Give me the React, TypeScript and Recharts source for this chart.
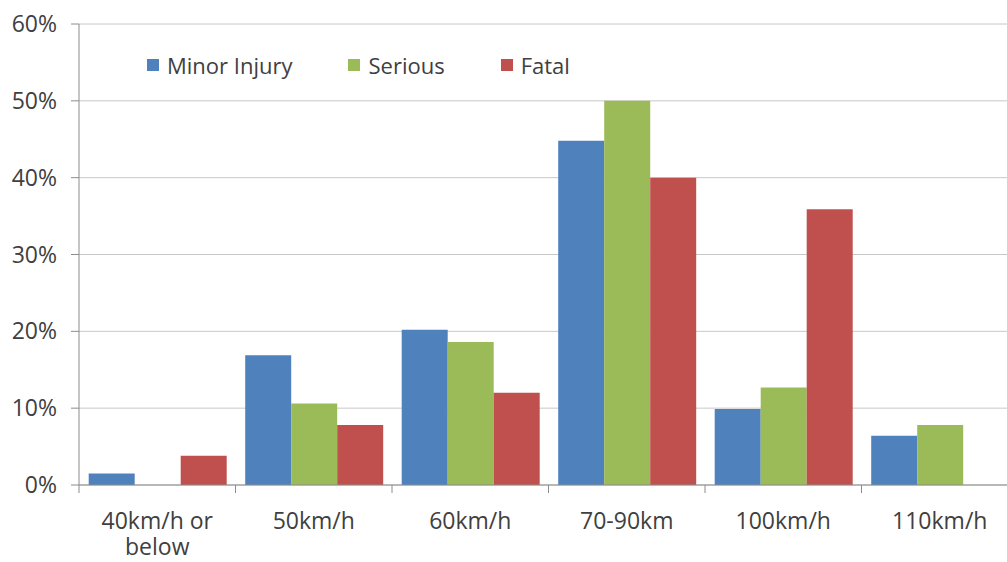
import React from 'react';
import { BarChart, Bar, XAxis, YAxis, CartesianGrid } from 'recharts';

const speeds = ['40km/h or below', '50km/h', '60km/h', '70-90km', '100km/h', '110km/h'];
const minorInjury = [1.5, 16.9, 20.2, 44.8, 9.9, 6.4];
const serious = [0, 10.6, 18.6, 50, 12.7, 7.8];
const fatal = [3.8, 7.8, 12, 40, 35.9, 0];
const yTicks = [0, 10, 20, 30, 40, 50, 60];

const seriesList = [
  { key: 'minor', name: 'Minor Injury', color: '#4F81BD' },
  { key: 'serious', name: 'Serious', color: '#9BBB59' },
  { key: 'fatal', name: 'Fatal', color: '#C0504D' },
];

const data = speeds.map((speed, i) => ({
  speed,
  minor: minorInjury[i],
  serious: serious[i],
  fatal: fatal[i],
}));

const CHART_W = 1018;
const CHART_H = 562;
const Y_AXIS_W = 79;
const BAND = (CHART_W - Y_AXIS_W) / speeds.length;
const FONT = '"Open Sans", sans-serif';
const TEXT_COLOR = '#404040';
const AXIS_COLOR = '#8c8c8c';
const X_FONT_SIZE = 23;

let measureCtx: CanvasRenderingContext2D | null = null;
function wrapLabel(label: string, maxWidth: number): string[] {
  if (!measureCtx) {
    measureCtx = document.createElement('canvas').getContext('2d');
  }
  if (!measureCtx) return [label];
  measureCtx.font = `${X_FONT_SIZE}px ${FONT}`;
  const words = label.split(' ');
  const lines: string[] = [];
  let current = '';
  words.forEach((w) => {
    const next = current ? `${current} ${w}` : w;
    if (current && measureCtx!.measureText(next).width > maxWidth) {
      lines.push(current);
      current = w;
    } else {
      current = next;
    }
  });
  if (current) lines.push(current);
  return lines;
}

function SpeedTick(props: any) {
  const { x, y, payload } = props;
  const left = x - BAND / 2;
  const lines = wrapLabel(String(payload.value), 130);
  return (
    <g>
      <line x1={left} x2={left} y1={y} y2={y + 8} stroke={AXIS_COLOR} />
      <text x={x} y={y + 44} textAnchor="middle" fontSize={X_FONT_SIZE} fontFamily={FONT} fill={TEXT_COLOR}>
        {lines.map((line, i) => (
          <tspan key={i} x={x} dy={i === 0 ? 0 : 26}>
            {line}
          </tspan>
        ))}
      </text>
    </g>
  );
}

function LegendBox() {
  return (
    <div
      style={{
        position: 'absolute',
        left: 147,
        top: 52,
        display: 'flex',
        alignItems: 'center',
        fontFamily: FONT,
        fontSize: 22,
        lineHeight: '26px',
        color: TEXT_COLOR,
        whiteSpace: 'nowrap',
      }}
    >
      {seriesList.map((s) => (
        <div key={s.key} style={{ display: 'flex', alignItems: 'center', marginRight: 56 }}>
          <span style={{ width: 12, height: 12, background: s.color, marginRight: 8, display: 'inline-block' }} />
          <span>{s.name}</span>
        </div>
      ))}
    </div>
  );
}

export default function App() {
  return (
    <div style={{ position: 'fixed', left: 0, top: 0, width: 1007, height: 562, overflow: 'hidden', background: '#fff' }}>
      <BarChart
        width={CHART_W}
        height={CHART_H}
        data={data}
        margin={{ top: 24, right: 0, bottom: 0, left: 0 }}
        barCategoryGap="6.2%"
        barGap={0}
      >
        <CartesianGrid vertical={false} stroke="#c8c8c8" />
        <XAxis
          dataKey="speed"
          height={77}
          interval={0}
          tickLine={false}
          tickSize={0}
          tickMargin={0}
          stroke={AXIS_COLOR}
          tick={<SpeedTick />}
        />
        <YAxis
          width={Y_AXIS_W}
          domain={[0, 60]}
          ticks={yTicks}
          interval={0}
          tickSize={8}
          tickMargin={14}
          stroke={AXIS_COLOR}
          tickFormatter={(v: number) => `${v}%`}
          tick={{ fill: TEXT_COLOR, fontSize: 23, fontFamily: FONT }}
        />
        {seriesList.map((s) => (
          <Bar key={s.key} dataKey={s.key} name={s.name} fill={s.color} isAnimationActive={false} />
        ))}
      </BarChart>
      <LegendBox />
    </div>
  );
}
